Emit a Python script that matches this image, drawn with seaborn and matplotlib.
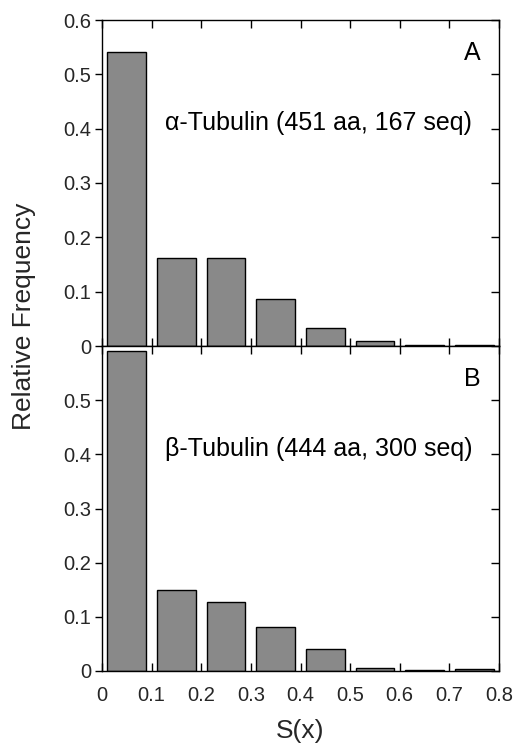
import matplotlib
matplotlib.use("Agg")
import matplotlib.pyplot as plt
import seaborn as sns
import pandas as pd

sns.set_theme(style="white")
plt.rcParams['font.family'] = ['Liberation Sans', 'DejaVu Sans']

bin_centers = [0.05, 0.15, 0.25, 0.35, 0.45, 0.55, 0.65, 0.75]
alpha_freq = [0.541, 0.162, 0.162, 0.087, 0.033, 0.010, 0.002, 0.002]
beta_freq = [0.590, 0.149, 0.127, 0.082, 0.040, 0.006, 0.002, 0.004]
alpha_label = "α-Tubulin (451 aa, 167 seq)"
beta_label = "β-Tubulin (444 aa, 300 seq)"
panel_letters = ["A", "B"]
x_ticks = [0, 0.1, 0.2, 0.3, 0.4, 0.5, 0.6, 0.7, 0.8]
x_tick_labels = ["0", "0.1", "0.2", "0.3", "0.4", "0.5", "0.6", "0.7", "0.8"]
y_ticks_top = [0, 0.1, 0.2, 0.3, 0.4, 0.5, 0.6]
y_ticks_bottom = [0, 0.1, 0.2, 0.3, 0.4, 0.5]

fig = plt.figure(figsize=(5.14, 7.48), dpi=100)
left, right = 102 / 514, 499 / 514
y_top = 1 - 20 / 748
y_mid = 1 - 346 / 748
y_bot = 1 - 671 / 748
ax1 = fig.add_axes([left, y_mid, right - left, y_top - y_mid])
ax2 = fig.add_axes([left, y_bot, right - left, y_mid - y_bot])

panels = [(ax1, alpha_freq, alpha_label, panel_letters[0], y_ticks_top),
          (ax2, beta_freq, beta_label, panel_letters[1], y_ticks_bottom)]

for ax, freq, label, letter, yt in panels:
    df = pd.DataFrame({"x": bin_centers, "y": freq})
    sns.barplot(data=df, x="x", y="y", ax=ax, native_scale=True, width=0.78,
                color="#898989", saturation=1, edgecolor="black", linewidth=1.0)
    ax.set_xlim(0, 0.8)
    ax.set_ylim(0, 0.6)
    ax.set_xticks(x_ticks)
    ax.set_yticks(yt)
    ax.set_yticklabels([("0" if v == 0 else f"{v:g}") for v in yt])
    ax.set_xlabel("")
    ax.set_ylabel("")
    for s in ax.spines.values():
        s.set_color("black")
        s.set_linewidth(1.0)
    ax.tick_params(axis="x", direction="in", top=True, bottom=True, length=5.5,
                   width=1, color="black", labelsize=14.5, pad=11)
    ax.tick_params(axis="y", direction="out", left=True, right=False, length=5,
                   width=1, color="black", labelsize=14.5, pad=3)
    twin = ax.twinx()
    twin.set_ylim(0, 0.6)
    twin.set_yticks(yt)
    twin.tick_params(axis="y", direction="in", right=True, length=6, width=1,
                     color="black", labelright=False)
    twin.grid(False)
    for s in twin.spines.values():
        s.set_visible(False)
    ax.text(0.437, 0.41, label, ha="center", va="center", fontsize=18, color="black")
    ax.text(0.746, 0.54, letter, ha="center", va="center", fontsize=18, color="black")
    ax.grid(False)

ax1.set_xticklabels([])
ax2.set_xticklabels(x_tick_labels)
ax2.set_xlabel("S(x)", fontsize=19, labelpad=10)
fig.text(24 / 514, 1 - 316 / 748, "Relative Frequency", rotation=90,
         ha="center", va="center", fontsize=19)

fig.savefig("out.png", dpi=100, facecolor="white")
